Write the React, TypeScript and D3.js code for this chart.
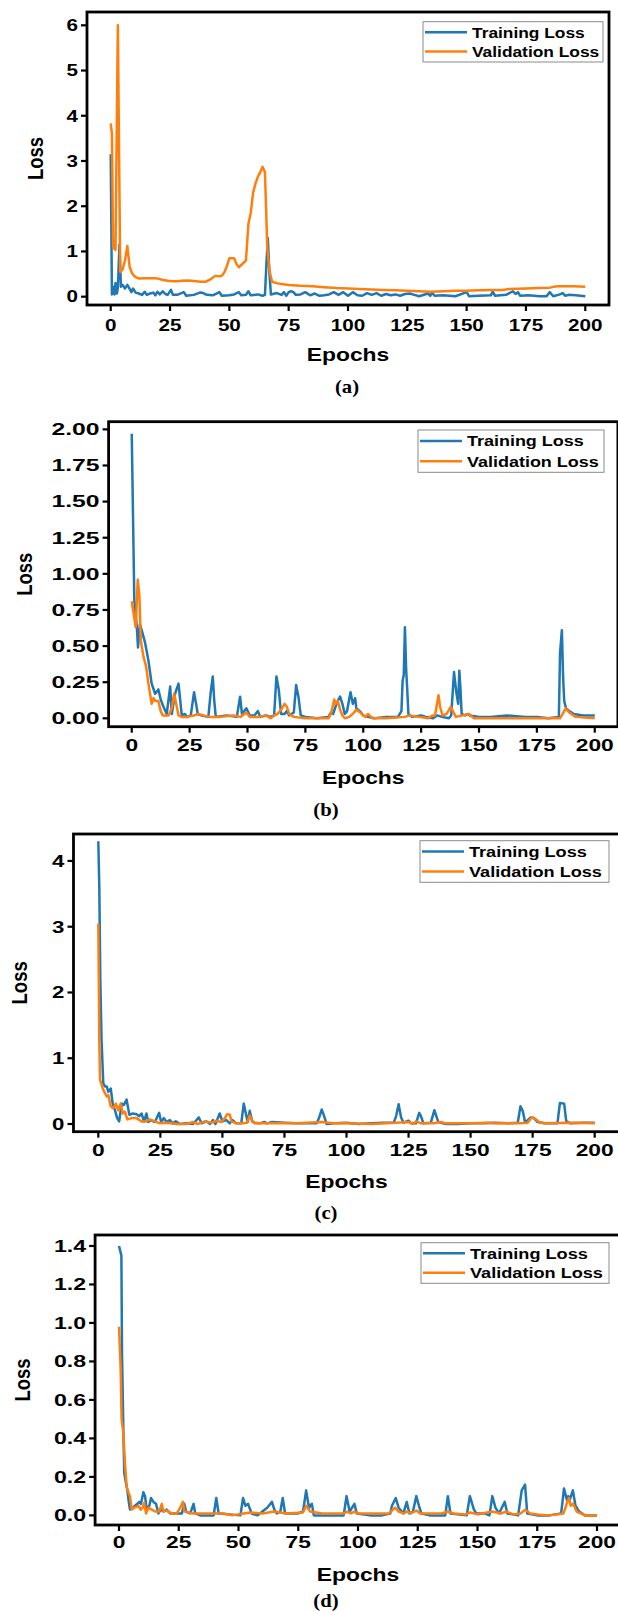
import React from 'react';
import * as d3 from 'd3';

type P = [number, number];

const epochTicks = [0, 25, 50, 75, 100, 125, 150, 175, 200];
const seriesNames = ['Training Loss', 'Validation Loss'];
const captions = ['(a)', '(b)', '(c)', '(d)'];

const aTicks = [0, 1, 2, 3, 4, 5, 6];
const bTicks = [0, 0.25, 0.5, 0.75, 1.0, 1.25, 1.5, 1.75, 2.0];
const cTicks = [0, 1, 2, 3, 4];
const dTicks = [0, 0.2, 0.4, 0.6, 0.8, 1.0, 1.2, 1.4];

const aTrain: P[] = [[0,3.15],[0.5,0.05],[1,0.22],[1.6,0.05],[2,0.3],[2.6,0.07],[3,0.2],[3.7,1.15],[4.3,0.22],[5,0.26],[6,0.18],[7,0.26],[7.7,0.2],[8.7,0.1],[9.4,0.18],[10.5,0.09],[11.8,0.07],[13.2,0.04],[14.3,0.11],[15.2,0.04],[16.6,0.07],[18,0.09],[18.8,0.03],[19.7,0.11],[20.7,0.05],[21.9,0.12],[23,0.06],[24,0.04],[25.4,0.15],[26.2,0.04],[28,0.04],[30.8,0.1],[31.8,0.02],[35,0.04],[37.6,0.09],[39,0.08],[40.5,0.04],[43,0.03],[45.8,0.1],[46.8,0.02],[49.9,0.03],[52,0.05],[54,0.1],[55,0.03],[57,0.04],[58,0.12],[59,0.03],[62,0.05],[64,0.02],[65,0.04],[65.6,0.7],[66.2,1.3],[66.8,0.6],[67.5,0.05],[70,0.08],[72,0.04],[73,0.1],[74,0.02],[75,0.1],[76,0.12],[77,0.1],[78,0.04],[80,0.05],[82,0.1],[84,0.03],[86,0.07],[88,0.02],[90,0.03],[92,0.05],[94,0.1],[96,0.04],[98,0.1],[100,0.02],[102,0.1],[104,0.03],[106,0.02],[108,0.08],[110,0.04],[112,0.08],[114,0.02],[116,0.06],[118,0.03],[120,0.05],[122,0.02],[124,0.06],[126,0.07],[128,0.04],[130,0.01],[133.7,0.07],[134.7,0.02],[135.4,0.09],[136.5,0.02],[140,0.03],[145.3,0.01],[150,0.1],[151,0.01],[155,0.02],[160.2,0.03],[161,0.11],[162,0.02],[166.6,0.04],[169.5,0.12],[170.6,0.06],[171.6,0.1],[172.6,0.02],[176,0.03],[180.8,0.01],[183.7,0.01],[185,0.1],[186.5,0.01],[189.3,0.05],[190.5,0.08],[191.5,0.02],[193,0.04],[196,0.03],[200,0.01]];
const aVal: P[] = [[0,3.83],[0.5,3.6],[1,1.1],[2,1.03],[3,6.0],[4,0.55],[5,0.6],[6,0.8],[7,1.12],[8,0.65],[9,0.52],[10,0.45],[11,0.42],[12,0.4],[14,0.41],[16,0.41],[18,0.41],[20,0.4],[22,0.37],[24,0.35],[26,0.34],[28,0.34],[30,0.35],[32,0.36],[34,0.35],[36,0.34],[38,0.33],[40,0.33],[42,0.38],[44,0.46],[46,0.45],[47,0.47],[48,0.55],[49,0.68],[50,0.85],[51,0.85],[52,0.85],[53,0.72],[54,0.65],[55,0.7],[56,0.75],[57,0.8],[58,1.6],[59,1.85],[60,2.3],[61,2.5],[62,2.65],[63,2.75],[64,2.87],[65,2.75],[66,1.05],[67,0.55],[68,0.33],[70,0.3],[72,0.28],[75,0.26],[80,0.24],[85,0.23],[90,0.21],[95,0.19],[100,0.18],[105,0.17],[110,0.16],[115,0.15],[120,0.14],[125,0.13],[130,0.12],[135,0.11],[140,0.12],[145,0.13],[150,0.13],[155,0.14],[160,0.15],[165,0.15],[168,0.17],[175,0.18],[180,0.19],[185,0.2],[188,0.23],[195,0.23],[200,0.22]];

const bTrain: P[] = [[0,1.97],[1.1,0.82],[2.2,0.63],[2.7,0.49],[3.5,0.65],[4.3,0.61],[5.8,0.52],[7.2,0.4],[8.6,0.24],[10.1,0.17],[11.5,0.2],[12.5,0.13],[13.7,0.08],[15.1,0.03],[16.6,0.22],[17.3,0.03],[18.7,0.17],[20.2,0.24],[21.6,0.02],[23,0.03],[23.8,0.01],[25.5,0.02],[26.9,0.18],[27.8,0.1],[28.5,0.03],[30,0.02],[33.1,0.01],[34.1,0.18],[35,0.29],[35.6,0.13],[36.3,0.01],[41,0.02],[45.4,0.01],[46.8,0.15],[47.6,0.03],[48.6,0.05],[49.5,0.07],[51,0.02],[53,0.02],[54.5,0.05],[55.5,0.01],[58,0.02],[60,0.01],[61.5,0.02],[62.5,0.29],[63.5,0.2],[64.5,0.03],[66,0.03],[67,0.05],[68,0.02],[70,0.04],[71,0.23],[72,0.15],[73,0.02],[75,0.01],[80,0.0],[85,0.01],[86,0.04],[87,0.03],[88,0.08],[89,0.12],[90,0.15],[91,0.1],[92,0.03],[93,0.05],[94.5,0.18],[95.5,0.1],[96.5,0.14],[97,0.07],[98.5,0.05],[100,0.02],[102,0.01],[105,0.0],[110,0.01],[115,0.01],[116.5,0.05],[117,0.26],[117.5,0.3],[118,0.63],[118.5,0.35],[119,0.2],[119.5,0.03],[121,0.01],[125,0.02],[127,0.01],[130,0.0],[132,0.02],[134,0.01],[137,0.0],[138,0.02],[139.2,0.32],[140.2,0.18],[141,0.1],[141.5,0.33],[142,0.2],[142.5,0.03],[144,0.02],[145,0.03],[146,0.02],[150,0.01],[155,0.01],[162,0.02],[170,0.01],[175,0.01],[180,0.0],[184.5,0.01],[185,0.45],[185.8,0.61],[186.3,0.3],[186.8,0.12],[187.6,0.07],[189,0.05],[191,0.03],[195,0.02],[200,0.02]];
const bVal: P[] = [[0,0.81],[1.7,0.63],[2.6,0.96],[3.3,0.85],[3.9,0.54],[5,0.43],[6.2,0.36],[7.2,0.24],[8.6,0.1],[9.4,0.14],[10.1,0.12],[11.5,0.12],[12.5,0.05],[13.4,0.02],[15.9,0.02],[17.3,0.07],[18.3,0.17],[19.2,0.1],[20.2,0.02],[21.6,0.01],[24,0.01],[26.7,0.02],[28.8,0.03],[31,0.02],[33.9,0.01],[38.2,0.01],[44,0.02],[47,0.01],[49.5,0.04],[51,0.01],[55,0.01],[58,0.02],[60,0.0],[61.5,0.02],[63,0.03],[65,0.07],[66,0.1],[67,0.08],[68,0.03],[70,0.01],[75,0.0],[80,0.0],[85,0.0],[86,0.03],[87.5,0.13],[88,0.1],[89,0.12],[90,0.06],[91,0.02],[92,0.0],[94,0.01],[96,0.04],[97,0.06],[98,0.05],[100,0.02],[101,0.01],[102,0.03],[104,0.0],[110,0.0],[118,0.01],[120,0.02],[124,0.01],[128,0.0],[130,0.02],[131,0.02],[132.5,0.16],[133.2,0.08],[134.2,0.02],[136,0.03],[137.8,0.08],[140,0.01],[145.7,0.03],[147.8,0.0],[160,0.0],[170,0.0],[180,0.0],[185,0.0],[187.5,0.07],[189,0.04],[191.7,0.01],[200,0.0]];

const cTrain: P[] = [[0,4.3],[0.4,3.6],[0.8,2.2],[1.3,1.28],[2,0.62],[2.7,0.57],[3.4,0.57],[4,0.49],[5,0.54],[5.8,0.31],[6.7,0.21],[7.6,0.09],[8.4,0.04],[9.4,0.31],[10.3,0.29],[11.4,0.37],[12.5,0.14],[13.8,0.16],[15.4,0.15],[16.5,0.12],[17.4,0.16],[18.4,0.04],[19.4,0.16],[20.1,0.03],[21,0.06],[22.8,0.03],[24.5,0.17],[25.3,0.03],[26.4,0.09],[27.5,0.03],[28.8,0.06],[29.9,0.01],[31.2,0.04],[32.8,0.0],[35.5,0.01],[38.2,0.0],[40.5,0.1],[41.6,0.01],[43.6,0.04],[45,0.0],[46.2,0.06],[47.2,0.0],[48.9,0.16],[50,0.04],[51.6,0.06],[53,0.01],[54,0.06],[55.6,0.01],[57.6,0.01],[58.6,0.31],[59.5,0.15],[60.2,0.03],[61,0.2],[62,0.04],[63,0.02],[65,0.01],[67,0.03],[68,0.01],[70,0.03],[75,0.02],[80,0.01],[88,0.01],[89,0.1],[90,0.22],[91,0.12],[92,0.0],[95,0.01],[100,0.02],[105,0.0],[110,0.01],[115,0.02],[119,0.02],[120,0.12],[121,0.3],[122,0.1],[123,0.02],[125,0.05],[126,0.01],[128,0.01],[129.3,0.17],[130,0.12],[131,0.01],[134,0.02],[135.4,0.21],[136.2,0.12],[137,0.03],[140,0.0],[145,0.0],[150,0.01],[155,0.01],[160,0.02],[165,0.01],[169,0.02],[170.1,0.27],[171,0.2],[172,0.02],[174.2,0.1],[175.5,0.09],[177,0.03],[180,0.01],[185,0.01],[186,0.32],[187.7,0.31],[188.5,0.05],[190,0.01],[195,0.02],[200,0.02]];
const cVal: P[] = [[0,3.05],[0.2,2.2],[0.4,1.23],[0.7,0.67],[2,0.52],[3.4,0.42],[4,0.44],[5,0.27],[6,0.24],[7.1,0.31],[8,0.21],[9,0.31],[9.8,0.16],[10.7,0.19],[11.7,0.07],[13.4,0.09],[15.4,0.09],[17.4,0.04],[19.2,0.04],[20.8,0.07],[22.8,0.04],[24.8,0.01],[26.8,0.02],[29.5,0.01],[31.5,0.0],[35.5,0.0],[38.2,0.03],[40,0.0],[42.9,0.04],[45.6,0.02],[47.6,0.05],[49.6,0.03],[51,0.09],[51.9,0.15],[53,0.14],[53.6,0.04],[55.6,0.01],[58.3,0.01],[60,0.02],[61,0.13],[62,0.05],[63,0.01],[70,0.01],[80,0.01],[90,0.03],[95,0.01],[100,0.01],[110,0.0],[120,0.02],[125,0.03],[127,0.0],[128,0.04],[130,0.01],[135,0.01],[138,0.03],[140,0.01],[150,0.01],[157,0.02],[160,0.01],[170,0.01],[173,0.02],[174.5,0.1],[176,0.08],[178,0.02],[180,0.01],[190,0.02],[200,0.01]];

const dTrain: P[] = [[0,1.4],[1,1.35],[1.26,0.84],[1.8,0.46],[2.2,0.22],[2.9,0.17],[3.5,0.13],[4.1,0.07],[4.6,0.03],[5.7,0.04],[6.7,0.05],[7.7,0.06],[8.5,0.07],[9.2,0.06],[10.2,0.12],[10.9,0.1],[11.6,0.03],[12.7,0.05],[13.4,0.09],[14.4,0.07],[15.5,0.06],[16.5,0.01],[17.5,0.03],[18.6,0.02],[20,0.03],[21.4,0.01],[24.9,0.01],[26.3,0.01],[27.3,0.06],[28.1,0.02],[29.8,0.01],[31.2,0.06],[31.9,0.01],[34,0.0],[39.6,0.0],[40.7,0.09],[41.7,0.01],[50.8,0.0],[51.9,0.09],[52.9,0.05],[54,0.06],[55.5,0.01],[58,0.0],[60,0.02],[62,0.04],[64,0.07],[65,0.03],[66,0.01],[67.5,0.02],[68.5,0.09],[69.5,0.01],[72,0.01],[75,0.01],[77,0.02],[78.3,0.13],[79.5,0.04],[80.7,0.06],[81.5,0.0],[85,0.0],[90,0.0],[94,0.0],[95.2,0.1],[96.5,0.02],[98.5,0.06],[99.5,0.01],[105,0.0],[110,0.0],[113.5,0.01],[114.2,0.05],[115.8,0.09],[117,0.04],[119,0.01],[120.4,0.07],[121.5,0.01],[123,0.02],[124.4,0.1],[125.5,0.05],[126.5,0.01],[130,0.0],[136.5,0.0],[137.6,0.1],[138.7,0.01],[145.5,0.0],[146.8,0.1],[148.5,0.03],[149.5,0.01],[153,0.01],[155,0.0],[156.2,0.1],[157.5,0.04],[159,0.01],[161.4,0.07],[162.5,0.01],[167,0.0],[168.5,0.13],[169.9,0.16],[170.8,0.01],[175,0.0],[180,0.0],[185,0.01],[186.2,0.14],[187.4,0.08],[188,0.1],[188.6,0.08],[189.9,0.13],[191,0.05],[192.5,0.02],[195,0.0],[200,0.0]];
const dVal: P[] = [[0,0.98],[0.7,0.76],[1.1,0.5],[1.8,0.43],[2.5,0.27],[3.2,0.15],[3.9,0.12],[4.6,0.1],[5.3,0.03],[6.3,0.04],[7.4,0.045],[8.1,0.05],[9.1,0.03],[9.9,0.04],[10.6,0.066],[11.3,0.01],[12.3,0.04],[13.7,0.03],[15.1,0.02],[16.8,0.02],[17.9,0.06],[18.6,0.02],[20,0.025],[22.1,0.01],[24.2,0.01],[25.6,0.04],[26.7,0.07],[27.4,0.02],[31.2,0.01],[36.8,0.01],[43.8,0.01],[47.3,0.0],[52.2,0.01],[55,0.015],[60,0.01],[65,0.02],[70,0.01],[77,0.015],[78.3,0.05],[80,0.02],[85,0.01],[94,0.01],[95.5,0.02],[97,0.01],[98.5,0.02],[100,0.01],[113,0.01],[115.5,0.04],[117,0.02],[119,0.01],[120.5,0.02],[122,0.01],[124.5,0.025],[126,0.01],[135,0.01],[137.5,0.02],[140,0.01],[145,0.005],[147,0.015],[150,0.005],[156,0.02],[160,0.01],[162,0.02],[165,0.005],[168,0.01],[170,0.03],[172,0.01],[175,0.005],[180,0.0],[186,0.01],[187.3,0.06],[188.3,0.09],[189,0.05],[190,0.06],[191.5,0.02],[195,0.0],[200,0.0]];

const BLUE = '#1f77b4';
const ORANGE = '#ff7f0e';
const SANS = '"Liberation Sans", Arial, Helvetica, sans-serif';
const SERIF = '"Liberation Serif", "Times New Roman", serif';

type PanelCfg = {
  left: number; right: number; top: number; bottom: number;
  yDomain: [number, number]; yTicks: number[]; fmt: string;
  train: P[]; val: P[];
  legend: { x: number; y: number; w: number; h: number };
  lossX: number; epochsY: number; capX: number; capY: number; tickY: number;
  xSx: number; ySx: number; lgSx: number;
};

function STxt(props: { x: number; y: number; size: number; sx?: number; anchor?: string; rot?: number; serif?: boolean; children: React.ReactNode }) {
  const { x, y, size, sx = 1.25, anchor = 'middle', rot = 0, serif = false, children } = props;
  const tr = `translate(${x},${y}) scale(${sx},1)` + (rot ? ` rotate(${rot})` : '');
  return (
    <text transform={tr} textAnchor={anchor as any} dy="0.35em" fontSize={size} fontWeight="bold" fontFamily={serif ? SERIF : SANS} fill="#000">
      {children}
    </text>
  );
}

function Panel({ cfg, idx }: { cfg: PanelCfg; idx: number }) {
  const x = d3.scaleLinear().domain([-10, 210]).range([cfg.left, cfg.right]);
  const y = d3.scaleLinear().domain(cfg.yDomain).range([cfg.bottom, cfg.top]);
  const line = d3.line<P>().x(d => x(d[0])).y(d => y(d[1]));
  const fmt = d3.format(cfg.fmt);
  const clipId = `clip${idx}`;
  const lg = cfg.legend;
  const cx = x(100);
  const cy = (cfg.top + cfg.bottom) / 2;
  return (
    <g>
      <defs>
        <clipPath id={clipId}>
          <rect x={cfg.left} y={cfg.top} width={cfg.right - cfg.left} height={cfg.bottom - cfg.top} />
        </clipPath>
      </defs>
      <g clipPath={`url(#${clipId})`} fill="none" strokeWidth={2.5} strokeLinejoin="round">
        <path d={line(cfg.train) || ''} stroke={BLUE} />
        <path d={line(cfg.val) || ''} stroke={ORANGE} />
      </g>
      <rect x={cfg.left} y={cfg.top} width={cfg.right - cfg.left} height={cfg.bottom - cfg.top} fill="none" stroke="#000" strokeWidth={2.8} />
      {cfg.yTicks.map(t => (
        <g key={'y' + t}>
          <line x1={cfg.left - 6} x2={cfg.left} y1={y(t)} y2={y(t)} stroke="#000" strokeWidth={2.2} />
          <STxt x={cfg.left - 9} y={y(t)} size={16.5} sx={cfg.ySx} anchor="end">{fmt(t)}</STxt>
        </g>
      ))}
      {epochTicks.map(t => (
        <g key={'x' + t}>
          <line x1={x(t)} x2={x(t)} y1={cfg.bottom} y2={cfg.bottom + 6} stroke="#000" strokeWidth={2.2} />
          <STxt x={x(t)} y={cfg.tickY} size={16.5} sx={cfg.xSx}>{String(t)}</STxt>
        </g>
      ))}
      <STxt x={cx} y={cfg.epochsY} size={18} sx={1.27}>Epochs</STxt>
      <STxt x={cfg.lossX} y={cy} size={18.5} sx={1.2} rot={-90}>Loss</STxt>
      <STxt x={cfg.capX} y={cfg.capY} size={18} sx={1.15} serif>{captions[idx]}</STxt>
      <g>
        <rect x={lg.x} y={lg.y} width={lg.w} height={lg.h} fill="#fff" stroke="#8a8a8a" strokeWidth={1} />
        {seriesNames.map((name, i) => {
          const ry = lg.y + lg.h * (i === 0 ? 0.26 : 0.74);
          return (
            <g key={name}>
              <line x1={lg.x + 2} x2={lg.x + 44} y1={ry} y2={ry} stroke={i === 0 ? BLUE : ORANGE} strokeWidth={2.5} />
              <STxt x={lg.x + 49} y={ry} size={15.5} sx={cfg.lgSx} anchor="start">{name}</STxt>
            </g>
          );
        })}
      </g>
    </g>
  );
}

export default function App() {
  const panels: PanelCfg[] = [
    { left: 87, right: 609, top: 12, bottom: 305, yDomain: [-0.184, 6.294], yTicks: aTicks, fmt: 'd', train: aTrain, val: aVal,
      legend: { x: 423, y: 21.7, w: 180, h: 40.3 }, lossX: 35, epochsY: 355, capX: 347, capY: 387, tickY: 325,
      xSx: 1.25, ySx: 1.25, lgSx: 1.12 },
    { left: 108.6, right: 617.9, top: 421.7, bottom: 726.7, yDomain: [-0.058, 2.053], yTicks: bTicks, fmt: '.2f', train: bTrain, val: bVal,
      legend: { x: 418, y: 430, w: 186, h: 42.3 }, lossX: 24, epochsY: 778, capX: 326, capY: 810, tickY: 745,
      xSx: 1.38, ySx: 1.5, lgSx: 1.16 },
    { left: 73.5, right: 619.5, top: 834, bottom: 1131.7, yDomain: [-0.117, 4.41], yTicks: cTicks, fmt: 'd', train: cTrain, val: cVal,
      legend: { x: 420, y: 840.7, w: 189, h: 41.6 }, lossX: 19, epochsY: 1182, capX: 326, capY: 1213, tickY: 1150,
      xSx: 1.38, ySx: 1.35, lgSx: 1.17 },
    { left: 95.1, right: 620.9, top: 1235, bottom: 1525, yDomain: [-0.05, 1.457], yTicks: dTicks, fmt: '.1f', train: dTrain, val: dVal,
      legend: { x: 421, y: 1242.7, w: 188, h: 40.6 }, lossX: 22, epochsY: 1575, capX: 326, capY: 1601, tickY: 1542,
      xSx: 1.38, ySx: 1.4, lgSx: 1.17 },
  ];
  return (
    <svg width={618} height={1612} style={{ position: 'absolute', left: 0, top: 0, background: '#fff' }}>
      <rect x={0} y={0} width={618} height={1612} fill="#fff" />
      {panels.map((p, i) => <Panel key={i} cfg={p} idx={i} />)}
    </svg>
  );
}
